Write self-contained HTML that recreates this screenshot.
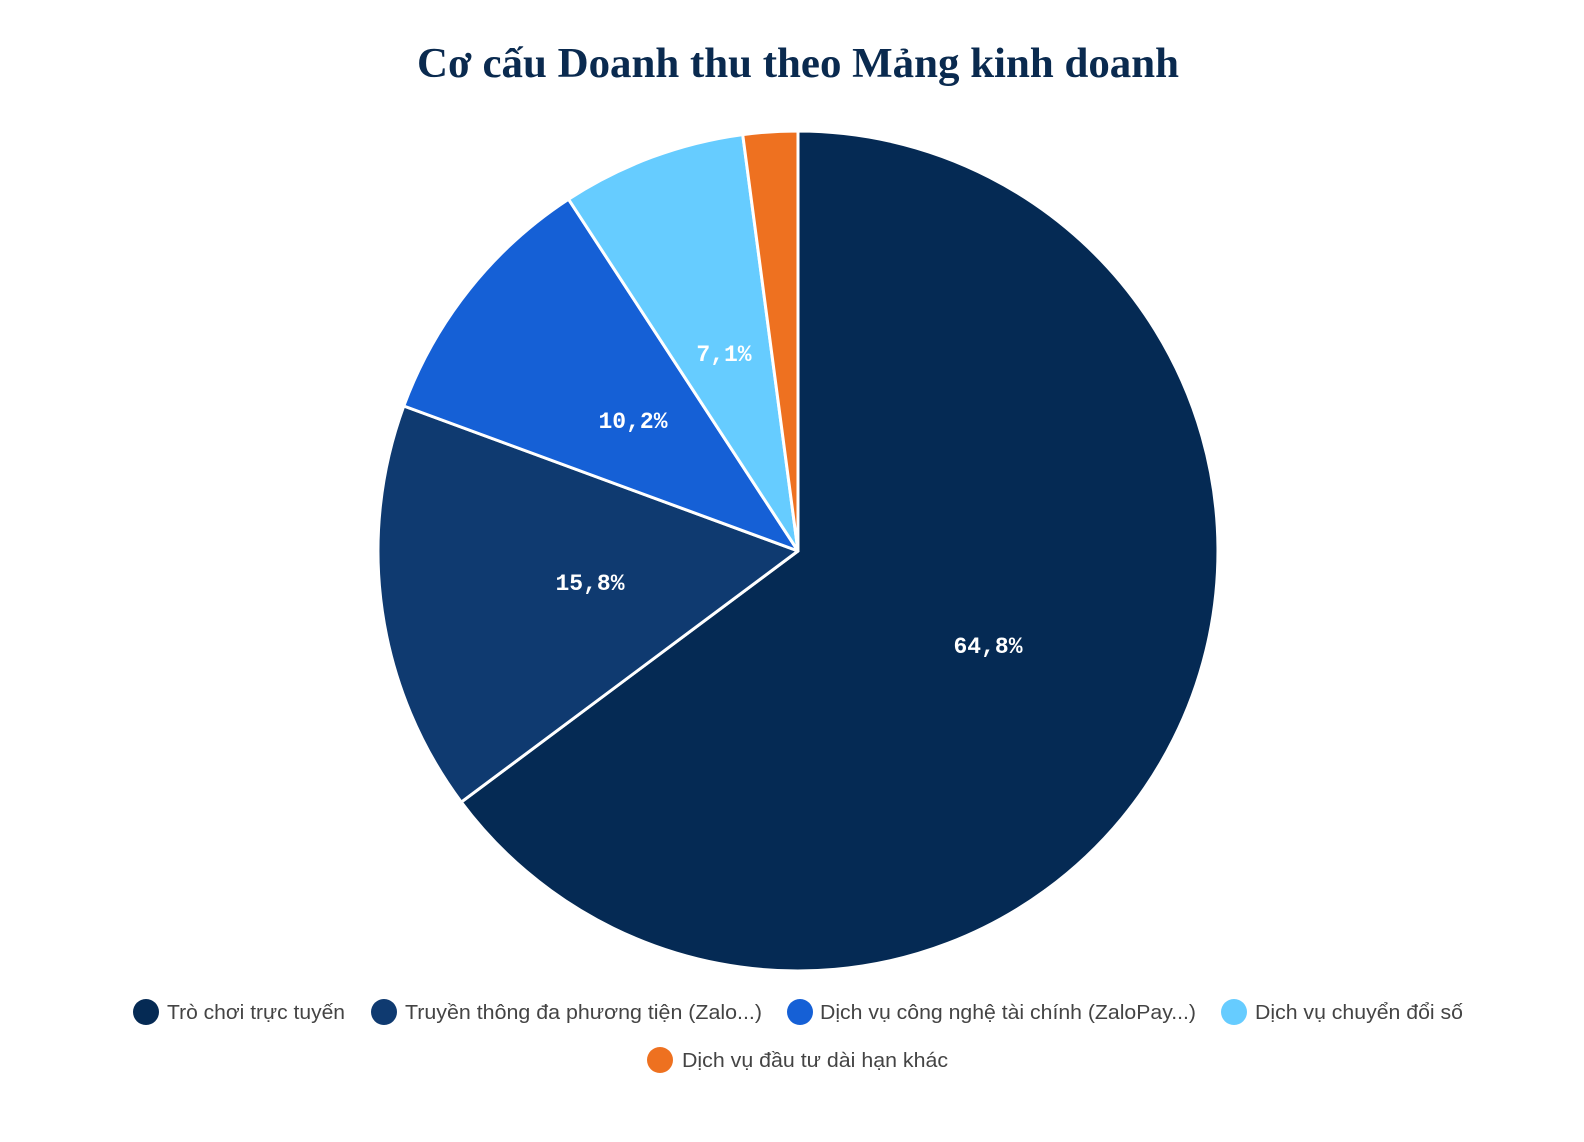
<!DOCTYPE html>
<html><head><meta charset="utf-8"><style>
html,body{margin:0;padding:0;background:#fff;}
svg{display:block;}
</style></head><body>
<svg width="1584" height="1142" viewBox="0 0 1584 1142" xmlns="http://www.w3.org/2000/svg">
<text x="798" y="77" text-anchor="middle" font-family="Liberation Serif, serif" font-weight="bold" font-size="42" fill="#0a2a4f" textLength="762" lengthAdjust="spacingAndGlyphs">Cơ cấu Doanh thu theo Mảng kinh doanh</text>
<g stroke="#fff" stroke-width="3" stroke-linejoin="round">
<path d="M798,551 L798,131 A420,420 0 1 1 461.3,802.1 Z" fill="#052a54"/>
<path d="M798,551 L461.3,802.1 A420,420 0 0 1 403.8,406 Z" fill="#0f3a70"/>
<path d="M798,551 L403.8,406 A420,420 0 0 1 568.5,199.2 Z" fill="#1560d6"/>
<path d="M798,551 L568.5,199.2 A420,420 0 0 1 742.7,134.6 Z" fill="#66ccff"/>
<path d="M798,551 L742.7,134.6 A420,420 0 0 1 798,131 Z" fill="#ee7120"/>
</g>
<g font-family="Liberation Mono, monospace" font-weight="bold" font-size="23" fill="#fff" text-anchor="middle">
<text x="988" y="653">64,8%</text>
<text x="590" y="590">15,8%</text>
<text x="633" y="428">10,2%</text>
<text x="724" y="361">7,1%</text>
</g>
<g font-family="Liberation Sans, DejaVu Sans, sans-serif" font-size="20" fill="#444">
<circle cx="146" cy="1012" r="13" fill="#052a54"/>
<text x="167" y="1019" textLength="178" lengthAdjust="spacingAndGlyphs">Trò chơi trực tuyến</text>
<circle cx="384" cy="1012" r="13" fill="#0f3a70"/>
<text x="405" y="1019" textLength="357" lengthAdjust="spacingAndGlyphs">Truyền thông đa phương tiện (Zalo...)</text>
<circle cx="800" cy="1012" r="13" fill="#1560d6"/>
<text x="820" y="1019" textLength="376" lengthAdjust="spacingAndGlyphs">Dịch vụ công nghệ tài chính (ZaloPay...)</text>
<circle cx="1234" cy="1012" r="13" fill="#66ccff"/>
<text x="1255" y="1019" textLength="208" lengthAdjust="spacingAndGlyphs">Dịch vụ chuyển đổi số</text>
<circle cx="660" cy="1060" r="13" fill="#ee7120"/>
<text x="682" y="1067" textLength="266" lengthAdjust="spacingAndGlyphs">Dịch vụ đầu tư dài hạn khác</text>
</g>
</svg>
</body></html>
